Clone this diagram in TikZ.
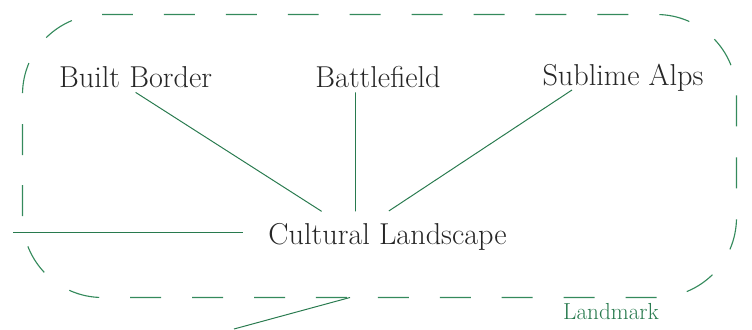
\documentclass[tikz,border=0pt]{standalone}
\usepackage{xcolor}
\usepackage{tikz}
\usetikzlibrary{calc}
\definecolor{linegreen}{RGB}{40,122,78}
\definecolor{dashgreen}{RGB}{52,138,92}
\definecolor{textgrey}{RGB}{38,38,38}

\begin{document}
\begin{tikzpicture}[
	term/.style={text=textgrey,font=\fontsize{21.5}{26}\selectfont},
	link/.style={draw=linegreen,line width=0.7pt},
	frame/.style={draw=dashgreen,line width=0.8pt,dash pattern=on 0.774cm off 0.774cm,dash phase=1.2cm,rounded corners=2cm}]
	\useasboundingbox (0,0) rectangle (18.8,8.225);
	%landmark frame
	\draw[frame] (0.5625,4.0) -- (0.5625,7.8625) -- (18.4125,7.8625) -- (18.4125,0.7875) -- (0.5625,0.7875) -- (0.5625,4.0);
	\node[text=linegreen,font=\fontsize{16.5}{20}\selectfont] (LM) at (15.275,0.425) {Landmark};
	
	%terms
	\node[term] (BB) at (3.39,6.305) {Built Border};
	\node[term] (BF) at (9.45,6.305) {Battlefield};
	\node[term] (SA) at (15.575,6.29) {Sublime Alps};
	\node[term] (CL) at (9.69,2.306) {Cultural Landscape};
	\coordinate (hub) at (8.8875,2.4);
	
	%links to the landscape
	\draw[link] (BB.south) to ($(BB.south)!0.846!(hub)$);
	\draw[link] (BF.south -| hub) to ($(BF.south -| hub)!0.846!(hub)$);
	\draw[link] ($(SA.south)+(-1.275,0.15)$) to ($($(SA.south)+(-1.275,0.15)$)!0.846!(hub)$);
	
	%loose ends
	\coordinate (LE) at (0.325,2.4125);
	\draw[link] (LE) to ($(LE -| CL.west)+(-0.52,0)$);
	\coordinate (FB) at (8.75,0.7875);
	\coordinate (BE) at (5.85,0);
	\draw[link] (FB) to (BE);
\end{tikzpicture}
\end{document}
